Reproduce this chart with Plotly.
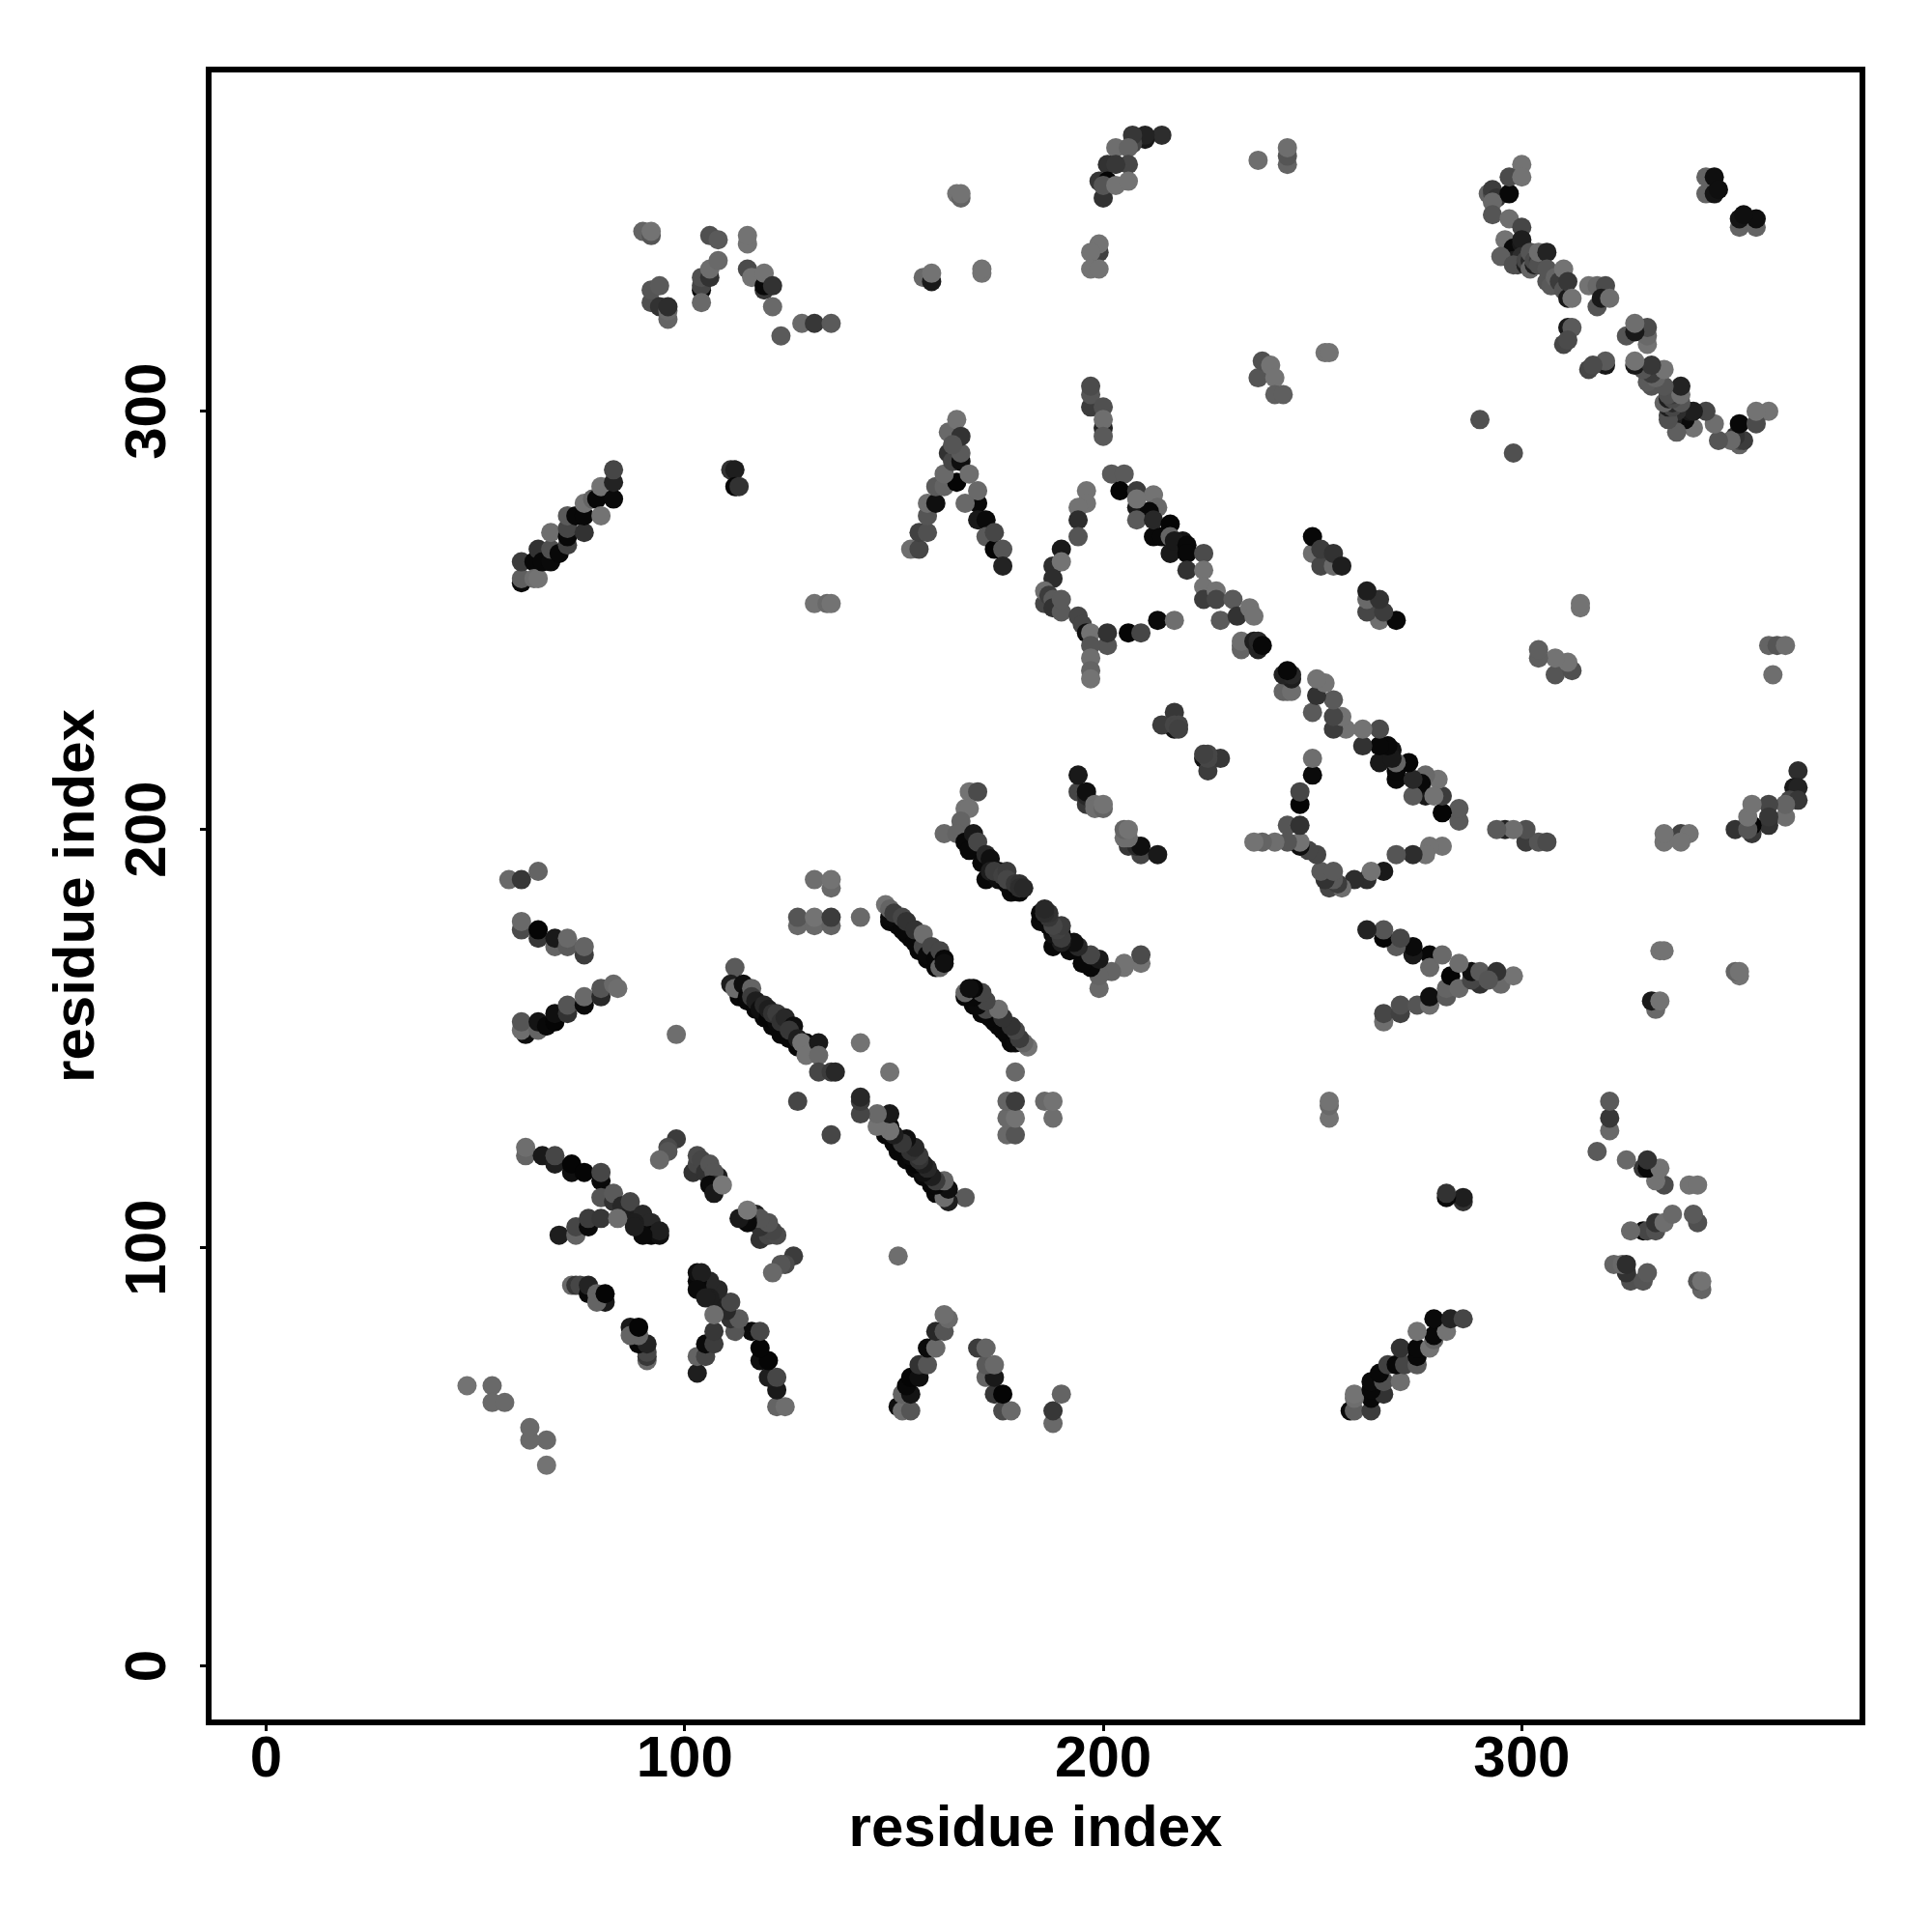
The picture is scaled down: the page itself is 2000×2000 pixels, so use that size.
import plotly.graph_objects as go

# Each contact is (residue i, residue j, grey level); the map is symmetric.
far_contacts = [(48,67,115),(54,67,105),(54,63,105),(57,63,105)]
strand_a = [(62,122,100),(62,124,110),(66,122,25),(69,120,30),(69,122,70),(73,118,15),(73,120,5),(76,118,5),
            (80,116,10),(80,118,70),(80,112,85),(83,111,50),(83,113,90),(85,110,40),(87,108,30),(87,111,70),(90,108,40),
            (89,105,8),(91,104,8),(92,106,40),(92,103,8),(88,106,30),(94,103,15),(94,104,30),(90,103,10),(88,105,30),(70,103,30),
            (74,103,100),(74,105,70),(77,105,10),(77,107,60),(80,107,55),(84,107,110)]
hairpin_b = [(98,126,60),(96,124,75),(96,123,85),(94,121,105),(102,118,50),(103,120,70),(103,122,75),(104,121,70),
             (106,117,60),(105,118,50),(106,120,85),(108,117,30),(107,118,85),(107,115,50),(106,115,10),(107,113,25),(109,115,120)]
hairpin_c = [(73,91,105),(74,91,55),(75,91,70),(77,89,8),(77,91,35),(79,89,100),(81,87,25),(79,87,100),(81,89,5)]
strand_d = [(58,188,105),(61,188,55),(65,190,100),(61,176,75),(61,178,105),(65,174,55),(65,176,5),(69,172,100),(69,174,25),
            (72,172,90),(72,174,105),(76,170,60),(76,172,100)]
strand_e = [(62,151,15),(61,152,110),(61,154,85),(65,152,100),(65,154,20),(67,153,8),(69,154,5),(69,156,15),(72,156,50),(72,158,85),
            (76,158,10),(76,160,105),(80,160,40),(80,162,85),(83,163,105),(84,162,110)]
stripe_f = [(98,151,110),(112,167,90),(111,163,30),(113,161,8),(113,160,8),(115,159,8),(117,157,8),(119,155,8),(121,153,8),(123,151,8),
            (125,150,8),(127,148,8),(112,162,110),(114,163,15),(115,160,8),(116,162,100),(116,160,60),(117,159,30),
            (118,157,15),(119,158,40),(120,155,5),(120,157,30),(122,154,10),(121,156,50),(122,156,60),(124,152,8),(123,154,50),(124,155,40),(126,153,15),
            (125,152,55),(127,150,30),(129,149,5),(128,149,115),(129,146,115),(132,149,25),(132,146,105),(132,142,70),(135,142,60),(136,142,40),
            (127,135,70),(142,149,115)]
block_g = [(127,177,105),(127,179,85),(131,177,105),(131,179,115),(135,177,100),(135,179,60),(142,179,105),
           (131,188,110),(135,186,105),(135,188,115)]
stripe_h = [(149,178,8),(151,177,8),(153,175,8),(154,174,8),(156,171,8),(158,169,8),(160,167,8),
            (148,182,115),(149,179,10),(149,181,100),(150,180,60),(152,176,8),(152,179,70),(153,178,50),(155,173,8),(155,176,50),
            (157,172,70),(157,175,110),(158,170,10),(159,172,70),(160,169,8),(161,167,100),(161,171,70),(162,169,8),(162,168,15)]
stripe_i = [(168,209,115),(170,209,75),(167,205,115),(168,205,115),(162,199,105),(166,202,100),(165,199,100),
            (167,197,8),(168,195,8),(171,192,8),(169,199,25),(170,197,70),(172,194,40),(173,193,15),(172,188,8),(173,190,30),(175,188,15),
            (175,190,8),(177,187,8),(178,185,10),(180,185,8),(174,190,60),(176,189,65),(177,190,60),(177,188,70),(179,187,55),(180,187,50),(180,186,45),(181,186,40)]
hairpin_j = [(194,209,70),(194,213,25),(196,206,55),(196,208,40),(196,209,15),(198,206,110),(198,205,110),(200,205,100),(200,206,115)]
hairpin_k = [(217,224,20),(217,228,55),(214,225,60),(217,225,70),(218,225,70),(218,224,65)]
strand_l = [(61,259,10),(61,260,95),(61,264,60),(64,264,8),(64,260,110),(65,260,115),(65,267,50),(66,264,8),(68,264,10),(68,267,80),(68,271,110),
            (70,266,8),(72,268,65),(72,270,8),(72,272,70),(72,275,90),(76,271,50),(74,275,8),(76,275,8),(76,278,115),(78,279,100),(79,279,8),
            (80,275,115),(80,282,115),(83,279,10),(83,283,35),(83,286,70)]
small_m = [(111,286,50),(112,286,30),(112,282,8),(113,282,50),(131,254,115),(134,254,105),(135,254,115)]
upper_n = [(90,343,100),(92,342,85),(92,343,115),(92,326,80),(92,329,85),(94,325,50),(94,330,90),(96,322,100),(96,324,105),(96,325,45),
           (106,342,80),(108,341,90),(115,340,115),(115,342,115),(104,329,8),(104,330,70),(104,332,80),(104,326,105),(106,332,50),
           (106,334,110),(108,336,105),(115,334,75),(116,332,115),(119,329,55),(119,330,8),(119,333,115),(121,330,50),(121,325,105),
           (123,318,90),(128,321,105),(131,321,55),(135,321,90),(157,332,105),(159,331,25),(159,333,115),(171,333,115),(171,334,115),
           (165,352,115),(166,351,100),(166,352,115)]
lambda_o = [(154,267,110),(156,267,70),(156,271,65),(158,271,80),(158,275,85),(158,278,110),(160,278,15),(160,282,90),(162,282,100),
            (165,283,5),(162,285,105),(163,290,50),(164,288,70),(166,288,15),(163,295,105),(165,298,115),(166,290,90),(166,294,50),
            (164,292,85),(168,285,110),(170,278,8),(167,278,105),(170,281,105),(170,274,25),(172,274,10),(172,270,90),(174,267,5),(174,271,70),
            (176,267,85),(176,263,35)]
arc_p = [(214,366,45),(210,365,25),(210,366,35),(207,364,70),(207,366,55),(203,363,110),(206,363,100),(206,359,70),(201,359,50),(203,359,55),
         (199,355,55),(201,355,5),(200,351,50),(200,354,85),(203,354,115),(206,355,115),
         (199,338,65),(199,340,115),(197,338,115),(197,334,115),(199,334,115),
         (197,301,60),(197,304,85),(197,306,75),(200,296,35),(200,301,80),(200,298,110),(200,294,90),
         (237,360,110),(244,359,100),(244,361,85),(244,363,110),
         (237,308,85),(238,312,80),(240,311,115),(241,308,115),(241,304,95),(243,304,95),(253,314,115),(254,314,115)]
triangle_q = [(196,281,115),(196,278,115),(194,277,115),(194,274,45),(194,270,85),(190,267,25),(188,263,45),(190,264,115),(188,260,45),
              (186,254,70),(186,257,110),(187,256,60),(188,255,90),(188,253,50),(190,252,90),(190,255,90),(194,251,70),(195,249,70),(196,247,15),(197,247,115),(201,244,85),
              (201,247,50),(197,244,85),(197,241,110),(197,238,100),(197,236,115),(206,247,5),(209,247,70),(213,250,10),(217,250,110)]
band_r = [(202,285,90),(205,285,90),(204,281,5),(208,281,60),(212,280,115),(208,277,25),(213,277,105),(211,276,8),(208,279,115),(208,274,90),(212,270,8),(212,274,40),(214,270,8),
          (216,273,5),(216,270,100),(216,266,25),(219,269,20),(217,269,25),(220,268,8),(220,266,8),(220,262,50),(224,266,75),(224,262,115),(224,258,115),(224,255,60),(227,257,115),
          (227,255,70),(231,255,90),(228,250,90),(232,251,50),(235,253,115),(236,251,115),(233,243,100),(233,244,100),(233,245,110),
          (236,245,30),(237,243,35),(237,245,40),(238,244,8)]
hairpin_s = [(250,266,110),(250,270,8),(252,263,70),(252,267,60),(255,263,105),(255,266,50),(257,263,30)]
bundle_t = [(290,298,80),(292,352,100),(293,352,75),(293,353,60),(294,351,50),(293,350,105),(293,347,85),(300,359,115),(297,352,8),(297,356,75),(300,356,115),
            (297,346,110),(300,344,70),(296,341,115),(300,338,60),(298,339,10),(299,336,20),(299,335,70),(298,336,30),(300,340,25),(300,341,30),(300,337,45),(295,337,95),(298,335,80),
            (301,335,30),(301,336,70),(302,336,40),(302,334,100),(302,338,85),(303,335,30),(303,336,75),(304,336,60),(304,335,80),
            (304,338,110),(306,338,35),(306,331,85),(306,334,85),(307,330,90),(308,332,100),(309,331,60),(310,329,85),(310,334,115),(311,327,25),(311,331,55),(312,327,115),
            (316,330,115),(318,330,105),(320,330,75),(318,325,85),(319,327,25),(321,327,110),(311,320,25),(312,320,90),
            (310,316,70),(311,317,75),(344,352,100),(344,356,100),(346,352,20),(346,356,15),(347,353,15)]

contact_groups = [far_contacts, strand_a, hairpin_b, hairpin_c, strand_d, strand_e, stripe_f, block_g, stripe_h, stripe_i,
                  hairpin_j, hairpin_k, strand_l, small_m, upper_n, lambda_o, arc_p, triangle_q, band_r, hairpin_s, bundle_t]
tick_values = [0, 100, 200, 300]
axis_title = "residue index"

contacts = [c for group in contact_groups for c in group]
xs = [c[0] for c in contacts] + [c[1] for c in contacts]
ys = [c[1] for c in contacts] + [c[0] for c in contacts]
colors = [f"rgb({c[2]},{c[2]},{c[2]})" for c in contacts] * 2

font = dict(family="Liberation Sans", color="black", size=60, weight=700)
axis = dict(
    showgrid=False, zeroline=False, showline=True, mirror=True, linecolor="black", linewidth=6,
    ticks="outside", ticklen=6, tickwidth=3, tickcolor="black",
    tickmode="array", tickvals=tick_values, ticktext=[str(v) for v in tick_values],
    tickfont=font,
)
fig = go.Figure(go.Scatter(x=xs, y=ys, mode="markers", cliponaxis=False,
                           marker=dict(size=20, color=colors, line=dict(width=0))))
fig.update_layout(
    width=2000, height=2000, autosize=False, showlegend=False,
    paper_bgcolor="white", plot_bgcolor="white",
    margin=dict(l=219, r=75, t=75, b=220, autoexpand=False),
)
fig.update_xaxes(**axis, range=[-13.04, 380.7], ticklabelstandoff=-25, title=dict(text=axis_title, font=font, standoff=20))
fig.update_yaxes(**axis, range=[-12.8, 381.0], tickangle=-90, ticklabelstandoff=12, ticklabelshift=9, title=dict(text=axis_title, font=font, standoff=2))
fig.write_html("out.html", config={"displayModeBar": False}, post_script="document.body.style.margin='0';")
